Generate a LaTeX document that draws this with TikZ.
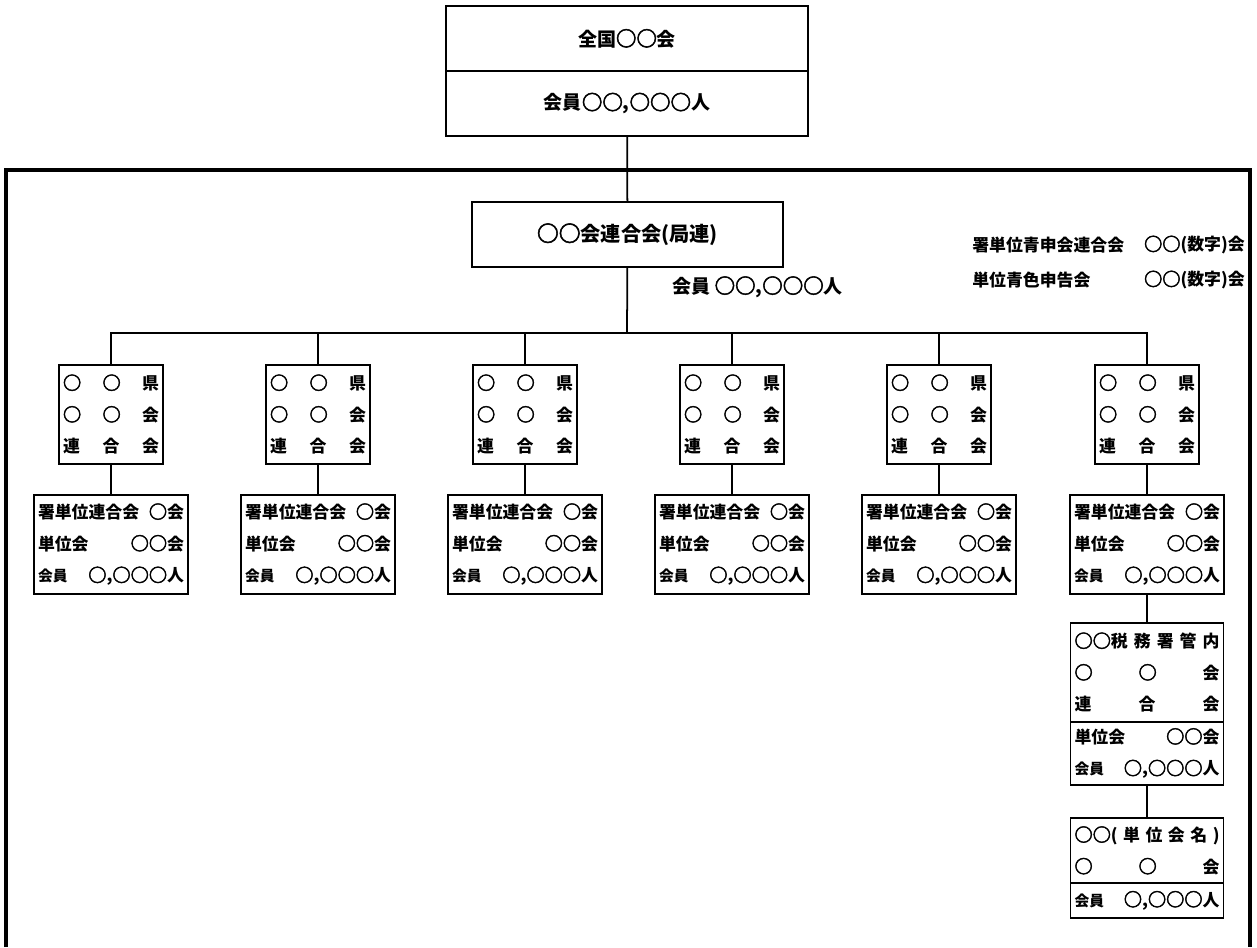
\documentclass[tikz,border=0pt]{standalone}
\usepackage{fontspec}
\usepackage{newunicodechar}
\setmainfont{Noto Sans CJK JP}
\newfontfamily\marufont{Noto Sans CJK JP}[FakeBold=2.5, Scale=1.08]
\newunicodechar{○}{{\marufont\char"25CB}}
\usetikzlibrary{positioning}

\tikzset{
  orgbox/.style={draw, line width=1pt, inner sep=0pt, font=\bfseries\fontsize{10.8pt}{13pt}\selectfont},
  kenbox/.style={draw, line width=1pt, minimum height=1.98cm, text width=1.92cm,
    inner xsep=0.08cm, inner ysep=0pt, align=justify, font=\bfseries\fontsize{9.6pt}{18pt}\selectfont},
  shokubox/.style={kenbox, text width=2.92cm},
  partbox/.style={kenbox, text width=2.9cm},
  link/.style={line width=1pt},
  note/.style={inner sep=0pt, font=\bfseries\fontsize{9.6pt}{12pt}\selectfont}
}
\newcommand{\kaiin}{{\fontsize{8.4pt}{18pt}\selectfont 会員}}

\begin{document}
\begin{tikzpicture}[x=0.02cm, y=-0.02cm]
  \useasboundingbox (0,0) rectangle (1257,947);

  % top organisation
  \node[orgbox, minimum width=7.24cm, minimum height=1.3cm] (zenkoku) at (627,38.5) {全国○○会};
  \node[orgbox, minimum width=7.24cm, minimum height=1.3cm, below=-1pt of zenkoku] (zenmem) {会員○○,○○○人};

  % outer frame, open at the bottom
  \draw[line width=2pt] (6,947) -- (6,170) -- (1250,170) -- (1250,947);

  % regional federation
  \node[orgbox, minimum width=6.22cm, minimum height=1.3cm, font=\bfseries\fontsize{11.5pt}{13pt}\selectfont] (rengo) at (627.5,234.5) {○○会連合会(局連)};
  \node[note, anchor=west, font=\bfseries\fontsize{10.8pt}{13pt}\selectfont] (rengomem) at (672,287) {会員 ○○,○○○人};
  \draw[link] (zenmem) -- (rengo);

  % legend
  \node[note, anchor=west] (leg1) at (972,245) {署単位青申会連合会};
  \node[note, anchor=east] (leg1n) at (1245,245) {○○(数字)会};
  \node[note, anchor=west] (leg2) at (972,280) {単位青色申告会};
  \node[note, anchor=east] (leg2n) at (1245,280) {○○(数字)会};

  % prefecture columns
  \coordinate (bus) at (627,333);
  \draw[link] (rengo) -- (bus);
  \foreach \x [count=\i] in {111,318,525,732,939,1147} {
    \node[kenbox] (ken\i) at (\x,414.5) {○\hfill{}○\hfill{}県\\○\hfill{}○\hfill{}会\\連\hfill{}合\hfill{}会};
    \node[shokubox] (shoku\i) at (\x,544.5) {署単位連合会\hfill{}○会\\単位会\hfill{}○○会\\\kaiin\hfill{}○,○○○人};
    \draw[link] (ken\i.north) |- (bus);
    \draw[link] (ken\i) -- (shoku\i);
  }

  % tax office district
  \node[partbox] (zeimu) at (1147,672.5) {○○税\hfill{}務\hfill{}署\hfill{}管\hfill{}内\\○\hfill{}○\hfill{}会\\連\hfill{}合\hfill{}会};
  \node[partbox, minimum height=1.26cm, below=-1pt of zeimu] (zeimumem) {単位会\hfill{}○○会\\\kaiin\hfill{}○,○○○人};
  \draw[link] (shoku6) -- (zeimu);

  % unit association
  \node[partbox, minimum height=1.3cm] (tanni) at (1147,850.5) {○○(\hfill{}単\hfill{}位\hfill{}会\hfill{}名\hfill{})\\○\hfill{}○\hfill{}会};
  \node[partbox, minimum height=0.7cm, below=-1pt of tanni] (tannimem) {\kaiin\hfill{}○,○○○人};
  \draw[link] (zeimumem) -- (tanni);
\end{tikzpicture}
\end{document}
